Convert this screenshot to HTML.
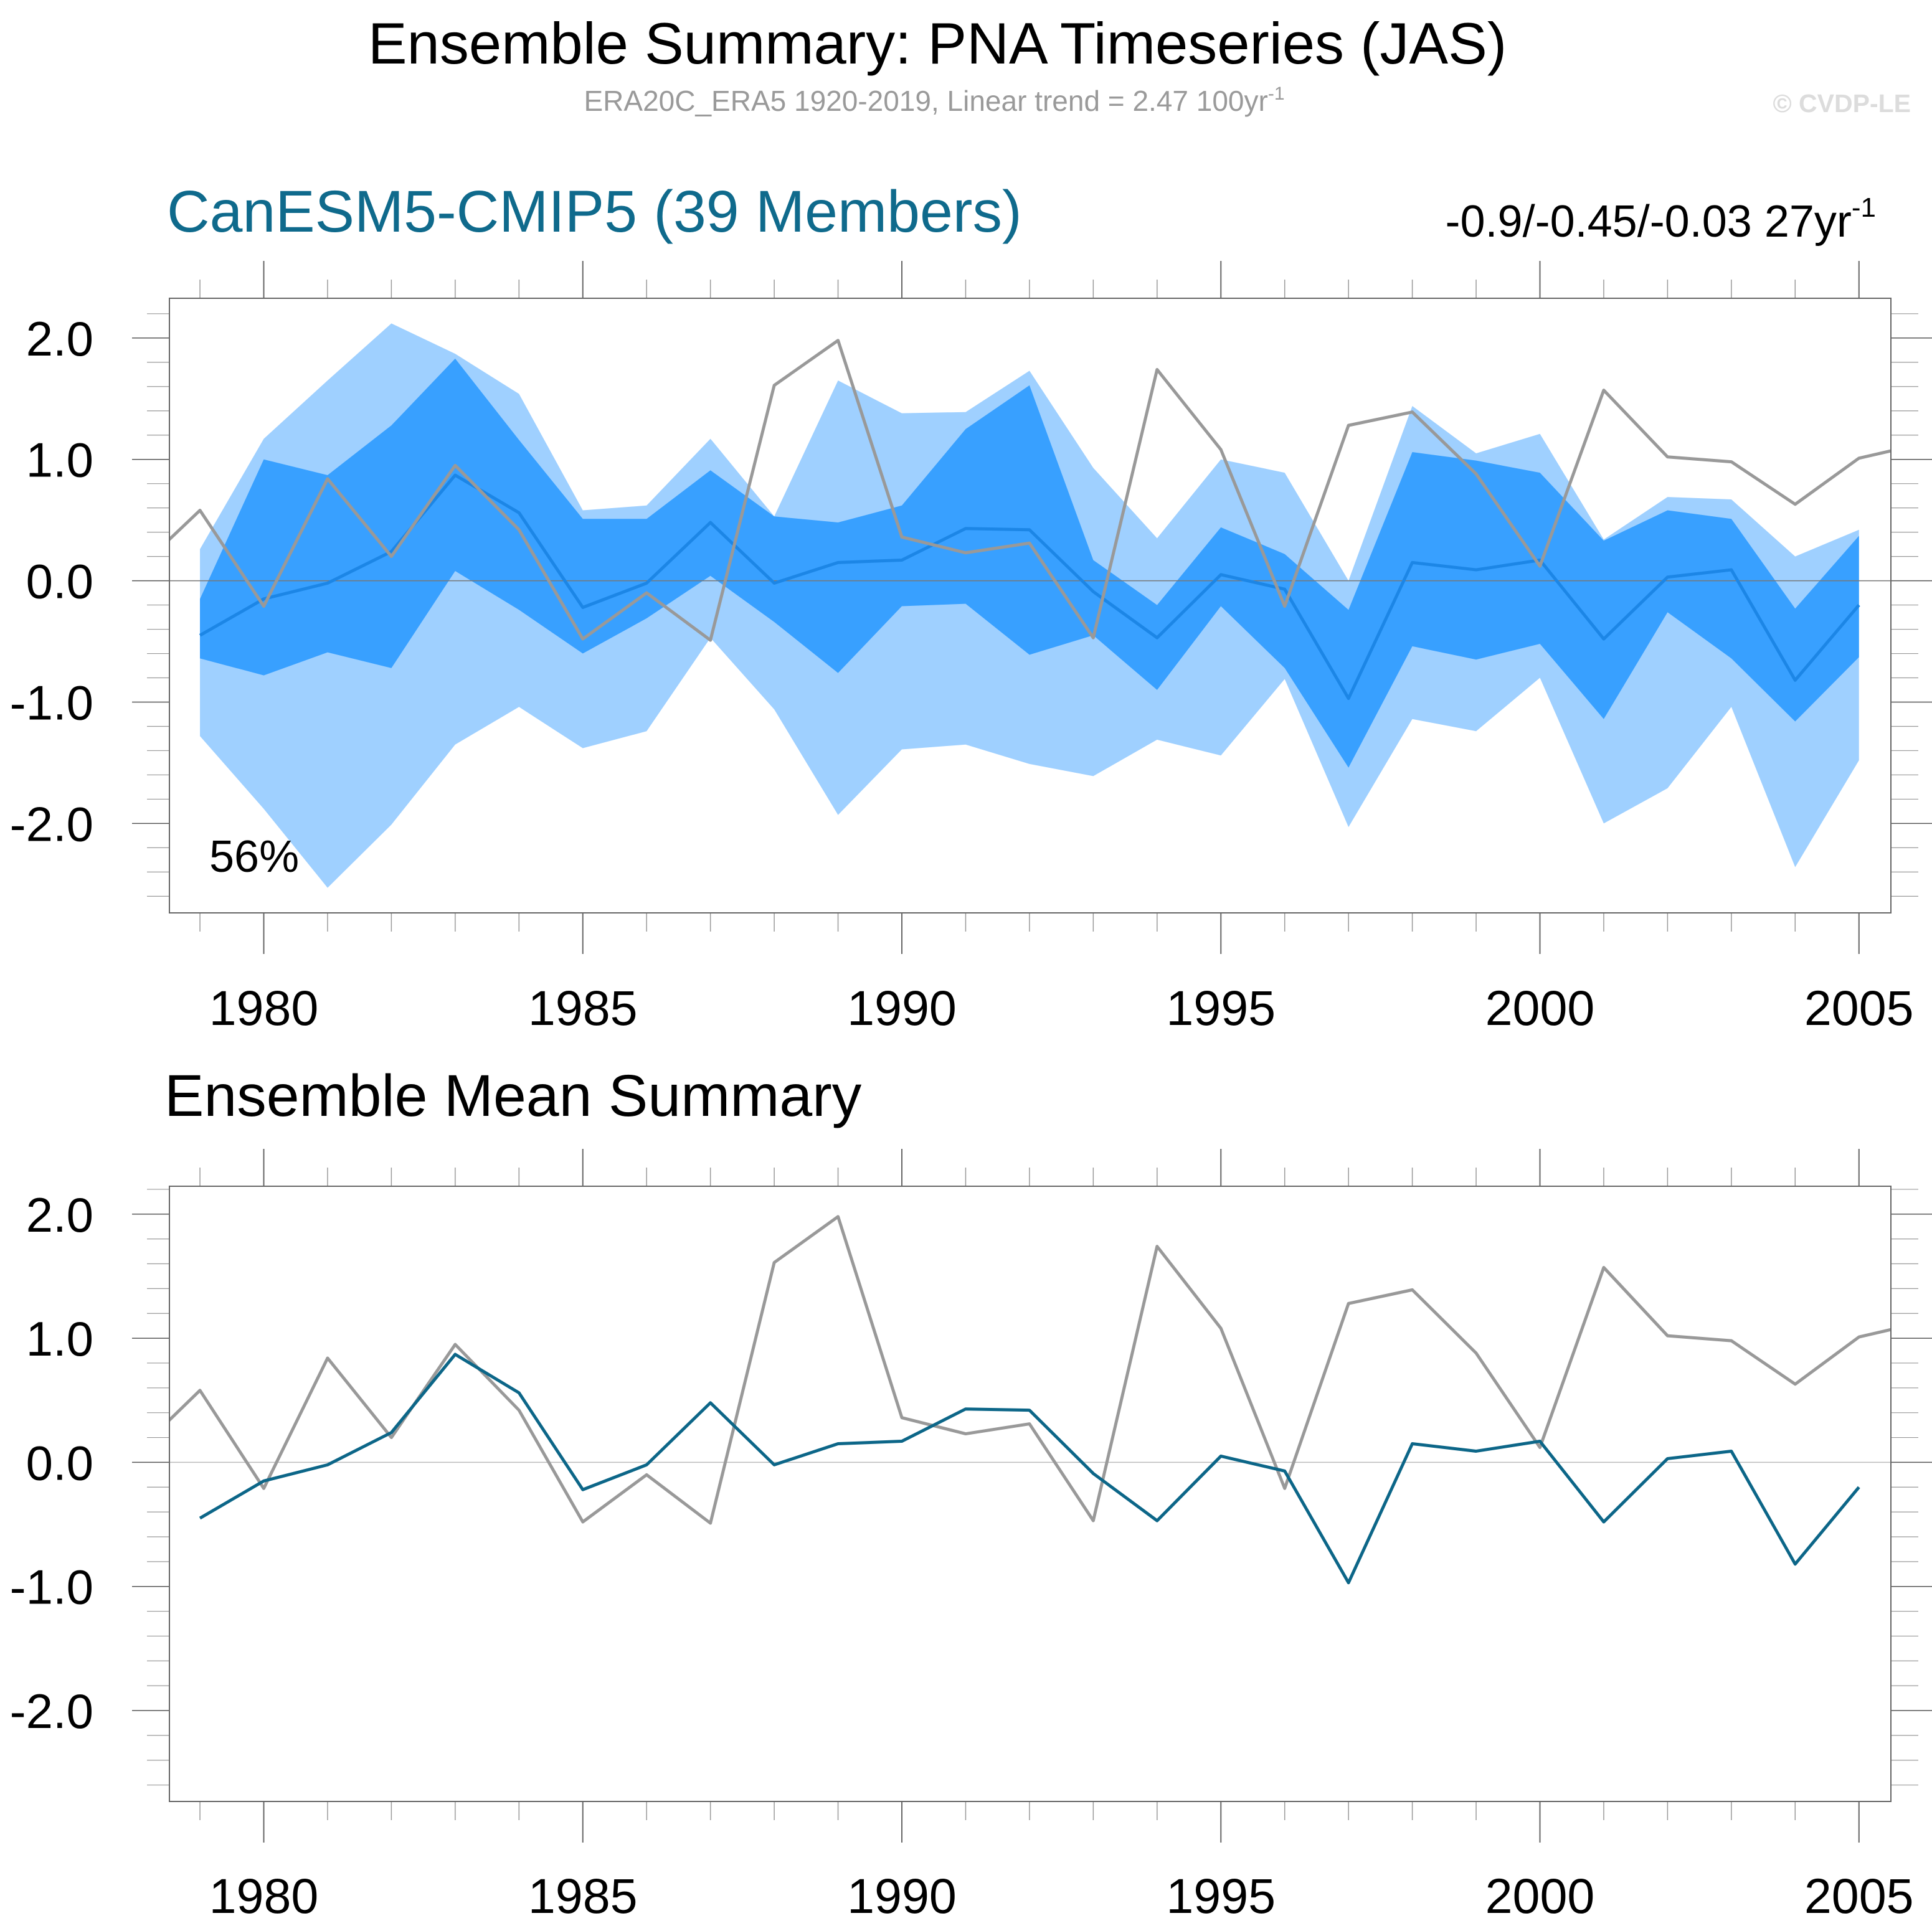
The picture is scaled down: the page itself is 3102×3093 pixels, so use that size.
<!DOCTYPE html>
<html><head><meta charset="utf-8"><style>
html,body{margin:0;padding:0;background:#fff;}
svg{display:block;font-family:"Liberation Sans",Arial,sans-serif;}
</style></head><body>
<svg id="chart" width="3102" height="3093" viewBox="0 0 3102 3093" xmlns="http://www.w3.org/2000/svg">
<defs>
<clipPath id="clipTop"><rect x="272" y="479" width="2764" height="987"/></clipPath>
<clipPath id="clipBot"><rect x="272" y="1905" width="2764" height="988"/></clipPath>
</defs>
<text x="1505" y="102" font-size="94" text-anchor="middle" fill="#000">Ensemble Summary: PNA Timeseries (JAS)</text>
<text x="1500" y="178" font-size="46" text-anchor="middle" fill="#9a9a9a">ERA20C_ERA5 1920-2019, Linear trend = 2.47 100yr<tspan dy="-18" font-size="30">-1</tspan></text>
<text x="3068" y="180" font-size="41" font-weight="bold" text-anchor="end" fill="#dcdcdc">© CVDP-LE</text>
<text x="268" y="372" font-size="95" fill="#0f6a8c">CanESM5-CMIP5 (39 Members)</text>
<text x="3012" y="380" font-size="72" text-anchor="end" fill="#000">-0.9/-0.45/-0.03 27yr<tspan dy="-32" font-size="44">-1</tspan></text>
<text x="264" y="1792" font-size="95" fill="#000">Ensemble Mean Summary</text>
<g id="top"></g>
<g id="bot"></g>
<text x="336" y="1400" font-size="72" fill="#000">56%</text>
</svg>
<script>
const years = [1979,1980,1981,1982,1983,1984,1985,1986,1987,1988,1989,1990,1991,1992,1993,1994,1995,1996,1997,1998,1999,2000,2001,2002,2003,2004,2005];
const ensMean = [-0.45,-0.15,-0.02,0.24,0.87,0.56,-0.22,-0.02,0.48,-0.02,0.15,0.17,0.43,0.42,-0.09,-0.47,0.05,-0.07,-0.97,0.15,0.09,0.17,-0.48,0.03,0.09,-0.82,-0.20];
const obsYears = [1978,1979,1980,1981,1982,1983,1984,1985,1986,1987,1988,1989,1990,1991,1992,1993,1994,1995,1996,1997,1998,1999,2000,2001,2002,2003,2004,2005,2006];
const obsValues = [0.08,0.58,-0.21,0.84,0.20,0.95,0.42,-0.48,-0.10,-0.49,1.61,1.98,0.36,0.23,0.31,-0.47,1.74,1.08,-0.21,1.28,1.39,0.88,0.12,1.57,1.02,0.98,0.63,1.01,1.13];
const outerHigh = [0.26,1.17,1.65,2.12,1.87,1.54,0.58,0.62,1.17,0.53,1.65,1.38,1.39,1.73,0.93,0.35,1.00,0.89,0.00,1.44,1.05,1.21,0.34,0.69,0.67,0.20,0.42];
const innerHigh = [-0.15,1.00,0.87,1.28,1.83,1.16,0.51,0.51,0.91,0.53,0.48,0.62,1.25,1.61,0.17,-0.20,0.44,0.22,-0.24,1.06,0.99,0.89,0.33,0.58,0.51,-0.23,0.37];
const innerLow = [-0.64,-0.78,-0.59,-0.72,0.08,-0.24,-0.60,-0.31,0.04,-0.34,-0.76,-0.21,-0.19,-0.61,-0.45,-0.90,-0.21,-0.72,-1.54,-0.54,-0.65,-0.52,-1.14,-0.26,-0.64,-1.16,-0.63];
const outerLow = [-1.28,-1.88,-2.53,-2.01,-1.35,-1.04,-1.38,-1.24,-0.47,-1.06,-1.93,-1.39,-1.35,-1.51,-1.61,-1.31,-1.44,-0.81,-2.03,-1.14,-1.24,-0.80,-2.00,-1.71,-1.04,-2.36,-1.48];
const yTickValues = [2,1,0,-1,-2];
const yTickLabels = ["2.0","1.0","0.0","-1.0","-2.0"];
const xTickYears = [1980,1985,1990,1995,2000,2005];

const NS="http://www.w3.org/2000/svg";
function mk(parent,tag,attrs){const e=document.createElementNS(NS,tag);for(const k in attrs)e.setAttribute(k,attrs[k]);parent.appendChild(e);return e;}
const xScale = yr => 423.5 + (yr-1980)*102.45;
const L=272,R=3036;

function drawPanel(g, y0, unit, top, bot, clip, full, xlabY){
  const ys = v => y0 - v*unit;
  for(let yr=1979; yr<=2005; yr++){
    const x=xScale(yr), major=(yr%5===0);
    let t=mk(g,'line',{x1:x,x2:x,y1:top-(major?60:30),y2:top,stroke:major?'#666':'#999','stroke-width':major?2:1.5});
    
    
    let b=mk(g,'line',{x1:x,x2:x,y1:bot,y2:bot+(major?66:30),stroke:major?'#666':'#999','stroke-width':major?2:1.5});
    
    
  }
  for(let i=-14;i<=12;i++){
    const v=i*0.2, y=ys(v);
    if(y<top-1||y>bot+1) continue;
    const major=(i%5===0);
    let l=mk(g,'line',{x1:major?212:236,x2:L,y1:y,y2:y,stroke:major?'#555':'#999','stroke-width':major?1.5:1.2});
    
    
    let r=mk(g,'line',{x1:R,x2:major?3102:3080,y1:y,y2:y,stroke:major?'#555':'#999','stroke-width':major?1.5:1.2});
    
    
  }
  const cg=mk(g,'g',{'clip-path':'url(#'+clip+')'});
  if(full){
    const band=(hi,lo,color,name)=>{
      let pts=years.map((yr,i)=>xScale(yr)+','+ys(hi[i]));
      for(let i=years.length-1;i>=0;i--) pts.push(xScale(years[i])+','+ys(lo[i]));
      const p=mk(cg,'polygon',{points:pts.join(' '),fill:color});
      
      
    };
    band(outerHigh,outerLow,'#9fd0ff','outer-range-band');
    band(innerHigh,innerLow,'#38a0ff','inner-range-band');
  }
  const zl=mk(cg,'line',{x1:L,x2:R,y1:ys(0),y2:ys(0),stroke:full?'#777':'#bbb','stroke-width':1.5});
  
  
  const meanColor = full ? '#1c86e6' : '#0c6688';
  const order = full ? ['mean','obs'] : ['obs','mean'];
  for(const which of order){
    if(which==='obs'){
      const o=mk(cg,'polyline',{points:obsYears.map((yr,i)=>xScale(yr)+','+ys(obsValues[i])).join(' '),fill:'none',stroke:'#999','stroke-width':5,'stroke-linejoin':'round'});
      
      
    } else {
      const m=mk(cg,'polyline',{points:years.map((yr,i)=>xScale(yr)+','+ys(ensMean[i])).join(' '),fill:'none',stroke:meanColor,'stroke-width':5,'stroke-linejoin':'round'});
      
      
    }
  }
  const box=mk(g,'rect',{x:L,y:top,width:R-L,height:bot-top,fill:'none',stroke:'#666','stroke-width':2});
  
  
  yTickValues.forEach((v,i)=>{
    const t=mk(g,'text',{x:150,y:ys(v)+28,'font-size':78,'text-anchor':'end',fill:'#000'});
    t.textContent=yTickLabels[i];
    
    
  });
  xTickYears.forEach(yr=>{
    const t=mk(g,'text',{x:xScale(yr),y:xlabY,'font-size':79,'text-anchor':'middle',fill:'#000'});
    t.textContent=yr;
    
    
  });
}
drawPanel(document.getElementById('top'), 932.6, 194.9, 479, 1466, 'clipTop', true, 1646);
drawPanel(document.getElementById('bot'), 2348.4, 199.3, 1905, 2893, 'clipBot', false, 3072);
</script>
</body></html>
